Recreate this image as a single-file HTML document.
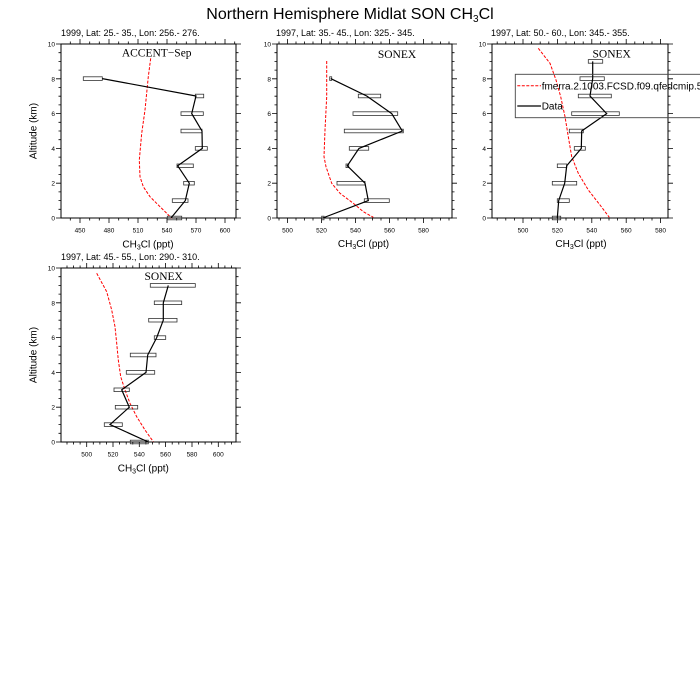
<!DOCTYPE html>
<html><head><meta charset="utf-8"><style>
html,body{margin:0;padding:0;background:#fff;}
svg{display:block;font-family:"Liberation Sans",sans-serif;}
.tl{font-size:6.5px;}
.al{font-size:10px;}
.pt{font-size:9px;}
.sf{font-family:"Liberation Serif",serif;font-size:11.5px;}
.fr{fill:none;stroke:#000;stroke-width:1;}
.tk{fill:none;stroke:#000;stroke-width:0.8;}
.rd{fill:none;stroke:#ff0000;stroke-width:1;stroke-dasharray:3,1.5;}
.dl{fill:none;stroke:#000;stroke-width:1.2;}
.bx{fill:none;stroke:#333;stroke-width:0.8;}
</style></head><body>
<svg width="700" height="700" viewBox="0 0 700 700" xmlns="http://www.w3.org/2000/svg">
<rect width="700" height="700" fill="#fff"/>
<defs>
<path id="ytL" class="tk" d="M0 0h-5M0 -34.8h-5M0 -69.6h-5M0 -104.4h-5M0 -139.2h-5M0 -174h-5M0 -8.7h-2.5M0 -17.4h-2.5M0 -26.1h-2.5M0 -43.5h-2.5M0 -52.2h-2.5M0 -60.9h-2.5M0 -78.3h-2.5M0 -87h-2.5M0 -95.7h-2.5M0 -113.1h-2.5M0 -121.8h-2.5M0 -130.5h-2.5M0 -147.9h-2.5M0 -156.6h-2.5M0 -165.3h-2.5"/>
<path id="ytR" class="tk" d="M0 0h5M0 -34.8h5M0 -69.6h5M0 -104.4h5M0 -139.2h5M0 -174h5M0 -8.7h2.5M0 -17.4h2.5M0 -26.1h2.5M0 -43.5h2.5M0 -52.2h2.5M0 -60.9h2.5M0 -78.3h2.5M0 -87h2.5M0 -95.7h2.5M0 -113.1h2.5M0 -121.8h2.5M0 -130.5h2.5M0 -147.9h2.5M0 -156.6h2.5M0 -165.3h2.5"/>
<path id="xt1" class="tk" d="M80 0v5M109 0v5M138 0v5M167 0v5M196 0v5M225 0v5M70.3 0v2.5M89.7 0v2.5M99.3 0v2.5M118.7 0v2.5M128.3 0v2.5M147.7 0v2.5M157.3 0v2.5M176.7 0v2.5M186.3 0v2.5M205.7 0v2.5M215.3 0v2.5M234.7 0v2.5"/>
<path id="xt2" class="tk" d="M287.5 0v5M321.5 0v5M355.5 0v5M389.5 0v5M423.5 0v5M279 0v2.5M296 0v2.5M304.5 0v2.5M313 0v2.5M330 0v2.5M338.5 0v2.5M347 0v2.5M364 0v2.5M372.5 0v2.5M381 0v2.5M398 0v2.5M406.5 0v2.5M415 0v2.5M432 0v2.5M440.5 0v2.5M449 0v2.5"/>
<path id="xt3" class="tk" d="M523 0v5M557.4 0v5M591.8 0v5M626.2 0v5M660.6 0v5M497.2 0v2.5M505.8 0v2.5M514.4 0v2.5M531.6 0v2.5M540.2 0v2.5M548.8 0v2.5M566 0v2.5M574.6 0v2.5M583.2 0v2.5M600.4 0v2.5M609 0v2.5M617.6 0v2.5M634.8 0v2.5M643.4 0v2.5M652 0v2.5"/>
<path id="xt4" class="tk" d="M86.7 0v5M113 0v5M139.3 0v5M165.6 0v5M192 0v5M218.3 0v5M67 0v2.5M73.5 0v2.5M80.1 0v2.5M93.3 0v2.5M99.9 0v2.5M106.5 0v2.5M119.6 0v2.5M126.2 0v2.5M132.8 0v2.5M145.9 0v2.5M152.5 0v2.5M159.1 0v2.5M172.2 0v2.5M178.8 0v2.5M185.4 0v2.5M198.6 0v2.5M205.1 0v2.5M211.7 0v2.5M224.9 0v2.5M231.5 0v2.5"/>
</defs>

<!-- Main title -->
<text x="350" y="19" text-anchor="middle" font-size="16">Northern Hemisphere Midlat SON CH<tspan font-size="10" dy="3">3</tspan><tspan dy="-3">Cl</tspan></text>

<!-- ================= Panel 1 ================= -->
<text class="pt" x="61" y="36">1999, Lat: 25.- 35., Lon: 256.- 276.</text>
<rect class="fr" x="61" y="44" width="175" height="174"/>
<use href="#ytL" transform="translate(61,218)"/>
<use href="#ytR" transform="translate(236,218)"/>
<use href="#xt1" transform="translate(0,218)"/>
<use href="#xt1" transform="translate(0,44) scale(1,-1)"/>
<g class="tl" text-anchor="end">
<text x="55" y="220.5">0</text><text x="55" y="185.7">2</text><text x="55" y="150.9">4</text><text x="55" y="116.1">6</text><text x="55" y="81.3">8</text><text x="55" y="46.5">10</text>
</g>
<g class="tl" text-anchor="middle">
<text x="80" y="232.5">450</text><text x="109" y="232.5">480</text><text x="138" y="232.5">510</text><text x="167" y="232.5">540</text><text x="196" y="232.5">570</text><text x="225" y="232.5">600</text>
</g>
<text class="al" x="148" y="247.5" text-anchor="middle">CH<tspan font-size="7" dy="2">3</tspan><tspan dy="-2">Cl (ppt)</tspan></text>
<text class="al" x="36.5" y="131" text-anchor="middle" transform="rotate(-90 36.5 131)">Altitude (km)</text>
<text class="sf" x="156.7" y="56.5" text-anchor="middle">ACCENT−Sep</text>
<polyline class="rd" points="150.7,58.3 148.3,76.7 145,110 141.7,133.3 139.3,160 140,176.7 143.3,186.7 150,196.7 160,206.7 166.7,213.3 171.7,218.3"/>
<g class="bx">
<rect x="83.3" y="76.8" width="19" height="3.6"/>
<rect x="195.3" y="94.2" width="8.4" height="3.6"/>
<rect x="181" y="111.8" width="22.3" height="3.6"/>
<rect x="181" y="129.2" width="21" height="3.6"/>
<rect x="195.3" y="146.6" width="12" height="3.6"/>
<rect x="177" y="164" width="16.3" height="3.6"/>
<rect x="183.7" y="181.4" width="10.6" height="3.6"/>
<rect x="172.3" y="198.8" width="15.7" height="3.6"/>
<rect x="167.3" y="216.2" width="14.4" height="3.6"/>
</g>
<polyline class="dl" points="102.3,78.6 196,96 191.7,113.6 202,131 202.3,148.4 177.7,165.8 189.3,183.2 185.3,200.6 171,218"/>

<!-- ================= Panel 2 ================= -->
<text class="pt" x="276" y="36">1997, Lat: 35.- 45., Lon: 325.- 345.</text>
<rect class="fr" x="277" y="44" width="175" height="174"/>
<use href="#ytL" transform="translate(277,218)"/>
<use href="#ytR" transform="translate(452,218)"/>
<use href="#xt2" transform="translate(0,218)"/>
<use href="#xt2" transform="translate(0,44) scale(1,-1)"/>
<g class="tl" text-anchor="end">
<text x="271" y="220.5">0</text><text x="271" y="185.7">2</text><text x="271" y="150.9">4</text><text x="271" y="116.1">6</text><text x="271" y="81.3">8</text><text x="271" y="46.5">10</text>
</g>
<g class="tl" text-anchor="middle">
<text x="287.5" y="232.5">500</text><text x="321.5" y="232.5">520</text><text x="355.5" y="232.5">540</text><text x="389.5" y="232.5">560</text><text x="423.5" y="232.5">580</text>
</g>
<text class="al" x="363.5" y="247" text-anchor="middle">CH<tspan font-size="7" dy="2">3</tspan><tspan dy="-2">Cl (ppt)</tspan></text>
<text class="sf" x="397" y="58" text-anchor="middle">SONEX</text>
<polyline class="rd" points="326.7,61 326.7,96.7 325,130 324,156.7 326,166.7 331.7,183.3 340,193.3 353.3,203.3 363.3,211.7 373.3,217.3"/>
<g class="bx">
<rect x="329.7" y="76.8" width="2" height="3.6"/>
<rect x="358.3" y="94.2" width="22.4" height="3.6"/>
<rect x="353" y="111.8" width="44.7" height="3.6"/>
<rect x="344.3" y="129.2" width="59" height="3.6"/>
<rect x="349.3" y="146.6" width="19.4" height="3.6"/>
<rect x="346" y="164" width="2.7" height="3.6"/>
<rect x="337" y="181.4" width="28" height="3.6"/>
<rect x="364.3" y="198.8" width="25" height="3.6"/>
<rect x="321.7" y="216.2" width="2.3" height="3.6"/>
</g>
<polyline class="dl" points="330.7,78.6 366.7,96 391.7,113.6 402.3,131 359,148.4 347.3,165.8 365,183.2 368.3,200.6 322.7,218"/>

<!-- ================= Panel 3 ================= -->
<text class="pt" x="491" y="36">1997, Lat: 50.- 60., Lon: 345.- 355.</text>
<rect class="fr" x="492" y="44" width="176" height="174"/>
<use href="#ytL" transform="translate(492,218)"/>
<use href="#ytR" transform="translate(668,218)"/>
<use href="#xt3" transform="translate(0,218)"/>
<use href="#xt3" transform="translate(0,44) scale(1,-1)"/>
<g class="tl" text-anchor="end">
<text x="486" y="220.5">0</text><text x="486" y="185.7">2</text><text x="486" y="150.9">4</text><text x="486" y="116.1">6</text><text x="486" y="81.3">8</text><text x="486" y="46.5">10</text>
</g>
<g class="tl" text-anchor="middle">
<text x="523" y="232.5">500</text><text x="557.4" y="232.5">520</text><text x="591.8" y="232.5">540</text><text x="626.2" y="232.5">560</text><text x="660.6" y="232.5">580</text>
</g>
<text class="al" x="581" y="247" text-anchor="middle">CH<tspan font-size="7" dy="2">3</tspan><tspan dy="-2">Cl (ppt)</tspan></text>
<text class="sf" x="611.7" y="57.5" text-anchor="middle">SONEX</text>
<polyline class="rd" points="538.3,48.3 550,63.3 556,80 560.7,96.7 565,116.7 568.3,136.7 571.7,156.7 578.3,173.3 588.3,190 600,205 609.3,217.3"/>
<g class="bx">
<rect x="588.3" y="59.6" width="14.4" height="3.6"/>
<rect x="580" y="76.8" width="24.3" height="3.6"/>
<rect x="578.3" y="94.2" width="33" height="3.6"/>
<rect x="571.7" y="111.8" width="47.6" height="3.6"/>
<rect x="569.3" y="129.2" width="14" height="3.6"/>
<rect x="574.3" y="146.6" width="11" height="3.6"/>
<rect x="557.3" y="164" width="9.4" height="3.6"/>
<rect x="552.3" y="181.4" width="24.4" height="3.6"/>
<rect x="557.3" y="198.8" width="12" height="3.6"/>
<rect x="552.3" y="216.2" width="8.4" height="3.6"/>
</g>
<polyline class="dl" points="592.7,61.4 592.7,78.6 590,96 606.7,113.6 581.7,131 581.3,148.4 566.7,165.8 564.7,183.2 558.7,200.6 557.3,218"/>
<!-- legend -->
<rect x="515.3" y="74.3" width="190" height="43.4" fill="none" stroke="#444" stroke-width="0.9"/>
<line x1="517.3" y1="85.7" x2="541" y2="85.7" class="rd"/>
<text x="541.7" y="89.3" font-size="10">fmerra.2.1003.FCSD.f09.qfedcmip.5</text>
<line x1="517.3" y1="106" x2="541" y2="106" class="dl"/>
<text x="541.7" y="109.6" font-size="10">Data</text>

<!-- ================= Panel 4 ================= -->
<text class="pt" x="61" y="260">1997, Lat: 45.- 55., Lon: 290.- 310.</text>
<rect class="fr" x="61" y="268" width="175" height="174"/>
<use href="#ytL" transform="translate(61,442)"/>
<use href="#ytR" transform="translate(236,442)"/>
<use href="#xt4" transform="translate(0,442)"/>
<use href="#xt4" transform="translate(0,268) scale(1,-1)"/>
<g class="tl" text-anchor="end">
<text x="55" y="444.5">0</text><text x="55" y="409.7">2</text><text x="55" y="374.9">4</text><text x="55" y="340.1">6</text><text x="55" y="305.3">8</text><text x="55" y="270.5">10</text>
</g>
<g class="tl" text-anchor="middle">
<text x="86.7" y="456.5">500</text><text x="113" y="456.5">520</text><text x="139.3" y="456.5">540</text><text x="165.6" y="456.5">560</text><text x="192" y="456.5">580</text><text x="218.3" y="456.5">600</text>
</g>
<text class="al" x="143.3" y="471.5" text-anchor="middle">CH<tspan font-size="7" dy="2">3</tspan><tspan dy="-2">Cl (ppt)</tspan></text>
<text class="al" x="36.5" y="355" text-anchor="middle" transform="rotate(-90 36.5 355)">Altitude (km)</text>
<text class="sf" x="163.7" y="280" text-anchor="middle">SONEX</text>
<polyline class="rd" points="96.7,273.3 106.7,291.7 111.7,310 115,326.7 116.7,343.3 118.3,360 120.7,376.7 125,390 130,403.3 136.7,416.7 145,430 153.3,441.7"/>
<g class="bx">
<rect x="150.3" y="283.6" width="45" height="3.6"/>
<rect x="154.3" y="301" width="27.4" height="3.6"/>
<rect x="148.7" y="318.4" width="28.3" height="3.6"/>
<rect x="154.3" y="335.8" width="11.4" height="3.6"/>
<rect x="130.3" y="353.2" width="25.7" height="3.6"/>
<rect x="126.3" y="370.6" width="28.4" height="3.6"/>
<rect x="114" y="388" width="15.3" height="3.6"/>
<rect x="115.3" y="405.4" width="22.4" height="3.6"/>
<rect x="104.3" y="422.8" width="18" height="3.6"/>
<rect x="130.3" y="440.2" width="18" height="3.6"/>
</g>
<polyline class="dl" points="168.3,285.4 163.3,302.8 163.3,320.2 156.7,337.6 147.7,355 146,372.4 121.7,389.8 129.3,407.2 110,424.6 148.3,442"/>
</svg>
</body></html>
